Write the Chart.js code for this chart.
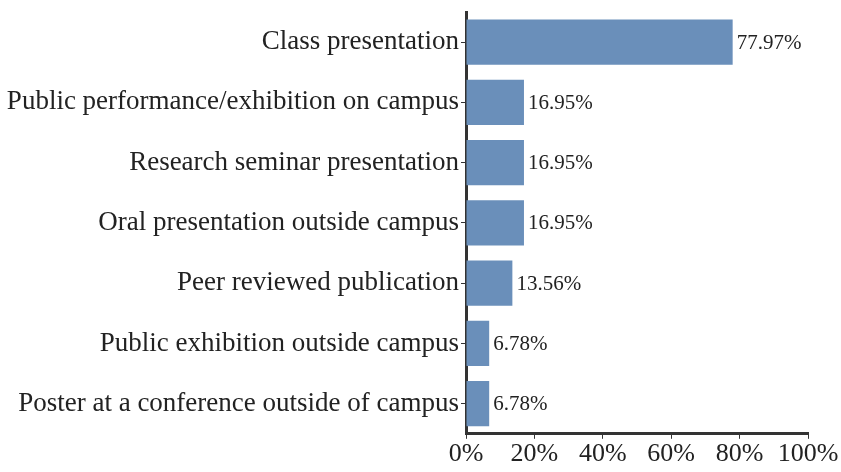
<!DOCTYPE html>
<html><head><meta charset="utf-8">
<script src="https://cdn.jsdelivr.net/npm/chart.js@4"></script>
<style>html,body{margin:0;padding:0;background:#fff}#wrap{width:841px;height:472px}</style>
</head><body><div id="wrap"><canvas id="c" width="841" height="472"></canvas></div>
<script>
const categories = ["Class presentation","Public performance/exhibition on campus","Research seminar presentation","Oral presentation outside campus","Peer reviewed publication","Public exhibition outside campus","Poster at a conference outside of campus"];
const values = [77.97,16.95,16.95,16.95,13.56,6.78,6.78];
const xTicks = [0,20,40,60,80,100];

const labelPlugin = {
  id:'vals',
  afterDatasetsDraw(chart){
    const ctx = chart.ctx;
    const meta = chart.getDatasetMeta(0);
    ctx.save();
    ctx.font = '21px "Liberation Serif"';
    ctx.fillStyle = '#222';
    ctx.textAlign = 'left';
    ctx.textBaseline = 'middle';
    meta.data.forEach((bar,i)=>{
      ctx.fillText(values[i].toFixed(2)+'%', bar.x+4, bar.y+1);
    });
    ctx.restore();
  }
};

new Chart(document.getElementById('c'),{
  type:'bar',
  data:{labels:categories,datasets:[{data:values,backgroundColor:'#6a8fba',barPercentage:0.75,categoryPercentage:1}]},
  options:{
    indexAxis:'y',responsive:false,animation:false,
    layout:{autoPadding:false,padding:{top:12,right:33,left:0,bottom:2}},
    plugins:{legend:{display:false},tooltip:{enabled:false}},
    scales:{
      x:{min:0,max:100,
        afterBuildTicks(s){s.ticks=xTicks.map(v=>({value:v}));},
        afterFit(s){s.paddingLeft=0;s.paddingRight=0;},
        ticks:{callback:v=>v+'%',color:'#222',font:{family:'"Liberation Serif"',size:26},padding:0,maxRotation:0},
        grid:{drawOnChartArea:false,drawTicks:true,tickLength:5,color:'#333',lineWidth:1},
        border:{display:true,color:'#333',width:3}},
      y:{
        afterFit(s){s.width=466;s.paddingTop=0;s.paddingBottom=0;},
        ticks:{color:'#222',font:{family:'"Liberation Serif"',size:27},padding:2},
        grid:{drawOnChartArea:false,drawTicks:true,tickLength:5,color:'#333',lineWidth:1,offset:false},
        border:{display:true,color:'#333',width:3}}
    }
  },
  plugins:[labelPlugin]
});
</script></body></html>
